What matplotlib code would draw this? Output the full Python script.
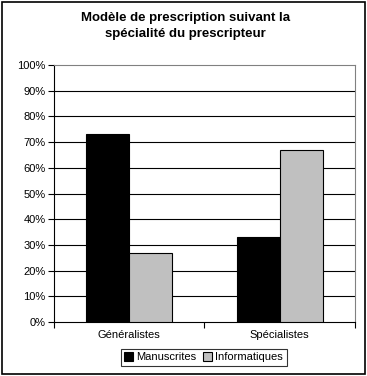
import numpy as np
import matplotlib.pyplot as plt
from matplotlib.patches import Rectangle

plt.rcParams['font.family'] = ['Liberation Sans', 'DejaVu Sans']

categories = ['Généralistes', 'Spécialistes']
manuscrites = [73, 33]
informatiques = [27, 67]
series_names = ['Manuscrites', 'Informatiques']

fig = plt.figure(figsize=(3.67, 3.76), dpi=100)
ax = fig.add_axes([0.147, 0.1436, 0.82, 0.6834])

x = np.arange(len(categories))
w = 0.285
ax.bar(x - w / 2, manuscrites, w, color='black', edgecolor='black', linewidth=0.8,
       label=series_names[0], zorder=3)
ax.bar(x + w / 2, informatiques, w, color='#c0c0c0', edgecolor='black', linewidth=0.8,
       label=series_names[1], zorder=3)

ax.set_xlim(-0.5, 1.5)
ax.set_ylim(0, 100)
ax.set_yticks(np.arange(0, 101, 10))
ax.set_yticklabels([f'{v}%' for v in range(0, 101, 10)], fontsize=8)
ax.set_xticks([-0.5, 0.5, 1.5])
ax.set_xticks(x, minor=True)
ax.set_xticklabels(['', '', ''])
ax.set_xticklabels(categories, minor=True, fontsize=8)
ax.tick_params(axis='x', which='minor', length=0, pad=6)
ax.tick_params(axis='x', which='major', length=4, width=0.8, direction='out')
ax.tick_params(axis='y', length=4, width=0.8, direction='out', pad=2)

for v in range(10, 100, 10):
    ax.axhline(v, color='black', linewidth=0.8, zorder=1)

ax.spines['left'].set_color('black')
ax.spines['bottom'].set_color('black')
ax.spines['top'].set_color('#808080')
ax.spines['right'].set_color('#808080')
for s in ax.spines.values():
    s.set_linewidth(0.8)

fig.text(0.505, 0.93, 'Modèle de prescription suivant la\nspécialité du prescripteur',
         ha='center', va='center', fontsize=9.5, fontweight='bold', linespacing=1.45)

leg = fig.legend(loc='center', bbox_to_anchor=(0.555, 0.05), ncol=2, fontsize=8,
                 frameon=True, fancybox=False, edgecolor='black', handlelength=0.8,
                 handleheight=0.8, handletextpad=0.3, columnspacing=0.6,
                 borderpad=0.3, borderaxespad=0)
leg.get_frame().set_linewidth(0.8)

fig.patches.append(Rectangle((0.006, 0.006), 0.988, 0.988, transform=fig.transFigure,
                             fill=False, edgecolor='black', linewidth=1.2))

fig.savefig('out.png', dpi=100)
